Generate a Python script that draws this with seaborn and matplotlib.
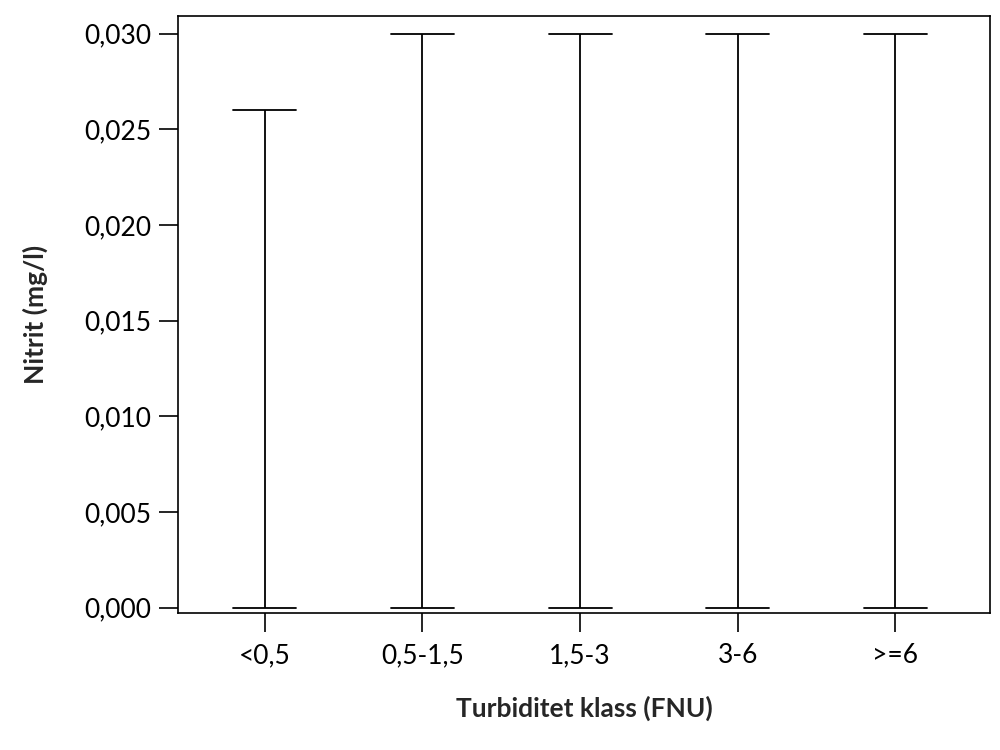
import numpy as np
import pandas as pd
import seaborn as sns
import matplotlib.pyplot as plt
from matplotlib.ticker import FuncFormatter

# Turbidity classes and the range of nitrite values in each
classes = ['<0,5', '0,5-1,5', '1,5-3', '3-6', '>=6']
nitrit_min = [0.0, 0.0, 0.0, 0.0, 0.0]
nitrit_max = [0.026, 0.030, 0.030, 0.030, 0.030]

# Build long table: mostly zeros plus the max, so the box collapses at 0
rows = []
for c, lo, hi in zip(classes, nitrit_min, nitrit_max):
    for v in [lo] * 9 + [hi]:
        rows.append({'klass': c, 'nitrit': v})
df = pd.DataFrame(rows)

sns.set_style('white')
plt.rcParams['font.family'] = ['Lato', 'DejaVu Sans']

fig = plt.figure(figsize=(10, 7.5), dpi=100)
ax = fig.add_axes([0.178, 0.183, 0.812, 0.796])

sns.boxplot(data=df, x='klass', y='nitrit', order=classes, whis=(0, 100),
            showbox=False, showfliers=False, color='black', ax=ax,
            whiskerprops={'color': 'black', 'linewidth': 1.3},
            capprops={'color': 'black', 'linewidth': 1.3},
            medianprops={'visible': False})

ax.set_xlim(-0.55, 4.6)
ax.set_ylim(-0.00026, 0.03094)
ax.set_yticks([0, 0.005, 0.010, 0.015, 0.020, 0.025, 0.030])
ax.yaxis.set_major_formatter(FuncFormatter(lambda v, p: f'{v:.3f}'.replace('.', ',')))

for s in ax.spines.values():
    s.set_visible(True)
    s.set_color('black')
    s.set_linewidth(1.2)

ax.tick_params(axis='both', which='major', direction='out', length=14, width=1.2,
               color='black', labelsize=19, labelcolor='black', left=True, bottom=True)
ax.tick_params(axis='x', pad=8)
ax.tick_params(axis='y', pad=5)

ax.set_xlabel('Turbiditet klass (FNU)', fontsize=19, fontweight='bold', labelpad=20)
ax.set_ylabel('Nitrit (mg/l)', fontsize=19, fontweight='bold', labelpad=26)

fig.savefig('out.png', dpi=100)
